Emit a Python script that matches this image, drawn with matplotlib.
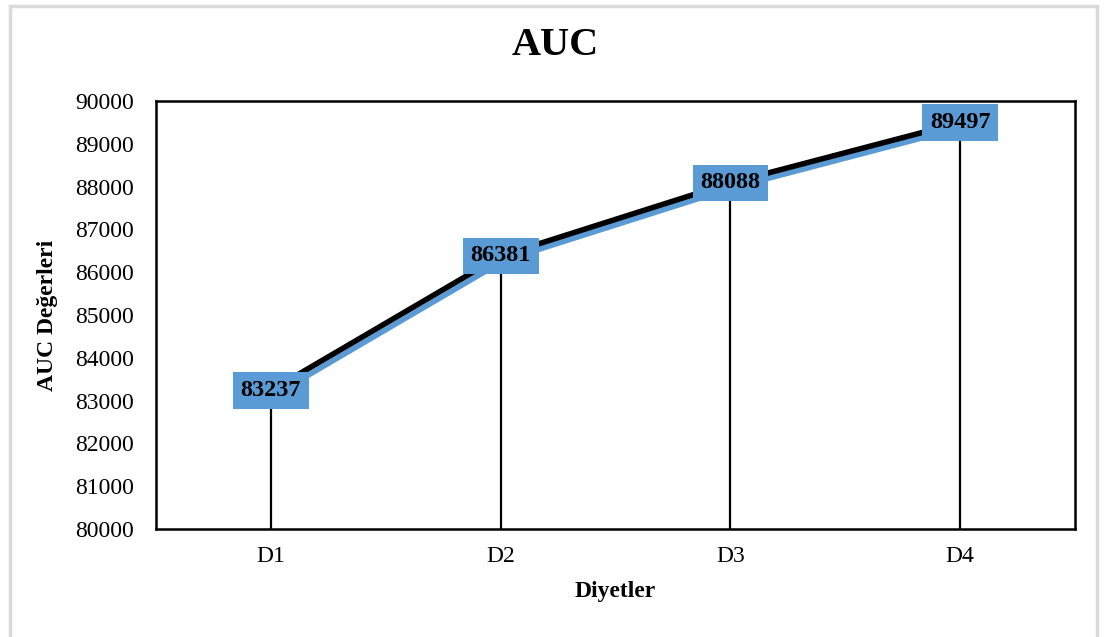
import matplotlib.pyplot as plt
import matplotlib.patheffects as pe
from matplotlib.patches import Rectangle

plt.rcParams['font.family'] = ['Liberation Serif', 'DejaVu Serif']

# veri
diyetler = ['D1', 'D2', 'D3', 'D4']
auc_degerleri = [83237, 86381, 88088, 89497]
y_ticks = [80000, 81000, 82000, 83000, 84000, 85000, 86000, 87000, 88000, 89000, 90000]

mavi = '#5B9BD5'

fig = plt.figure(figsize=(11.05, 6.37), dpi=100)
ax = fig.add_axes([0.1412, 0.1695, 0.8317, 0.6719])

# dış çerçeve
fig.patches.append(Rectangle((0.009, -0.01), 0.984, 1.0, transform=fig.transFigure,
                             fill=False, edgecolor='#d9d9d9', linewidth=2.5))

x = list(range(len(diyetler)))

# düşey çizgiler
ax.vlines(x, y_ticks[0], auc_degerleri, color='black', linewidth=1.6, zorder=2)

# çizgi + mavi gölge
ax.plot(x, auc_degerleri, color='black', linewidth=4, solid_capstyle='butt', zorder=3,
        path_effects=[pe.SimpleLineShadow(offset=(2.5, -3.2), shadow_color=mavi, alpha=1.0),
                      pe.Normal()])

# değer etiketleri
for xi, v in zip(x, auc_degerleri):
    ax.text(xi, v, f'{v}', ha='center', va='center', fontsize=17.5, fontweight='bold',
            zorder=5,
            bbox=dict(boxstyle='square,pad=0.32', facecolor=mavi, edgecolor='none'))

ax.set_xlim(-0.5, 3.5)
ax.set_ylim(y_ticks[0], y_ticks[-1])
ax.set_xticks(x)
ax.set_xticklabels(diyetler, fontsize=17)
ax.set_yticks(y_ticks)
ax.set_yticklabels([str(t) for t in y_ticks], fontsize=17)
ax.tick_params(length=0, pad=16)
ax.tick_params(axis='x', pad=12)
for s in ax.spines.values():
    s.set_linewidth(1.8)

ax.set_xlabel('Diyetler', fontsize=17, fontweight='bold', labelpad=10)
ax.set_ylabel('AUC Değerleri', fontsize=17, fontweight='bold', labelpad=12)
fig.text(0.5025, 0.928, 'AUC', ha='center', va='center', fontsize=29, fontweight='bold')

plt.savefig('out.png', dpi=100)
plt.close()
